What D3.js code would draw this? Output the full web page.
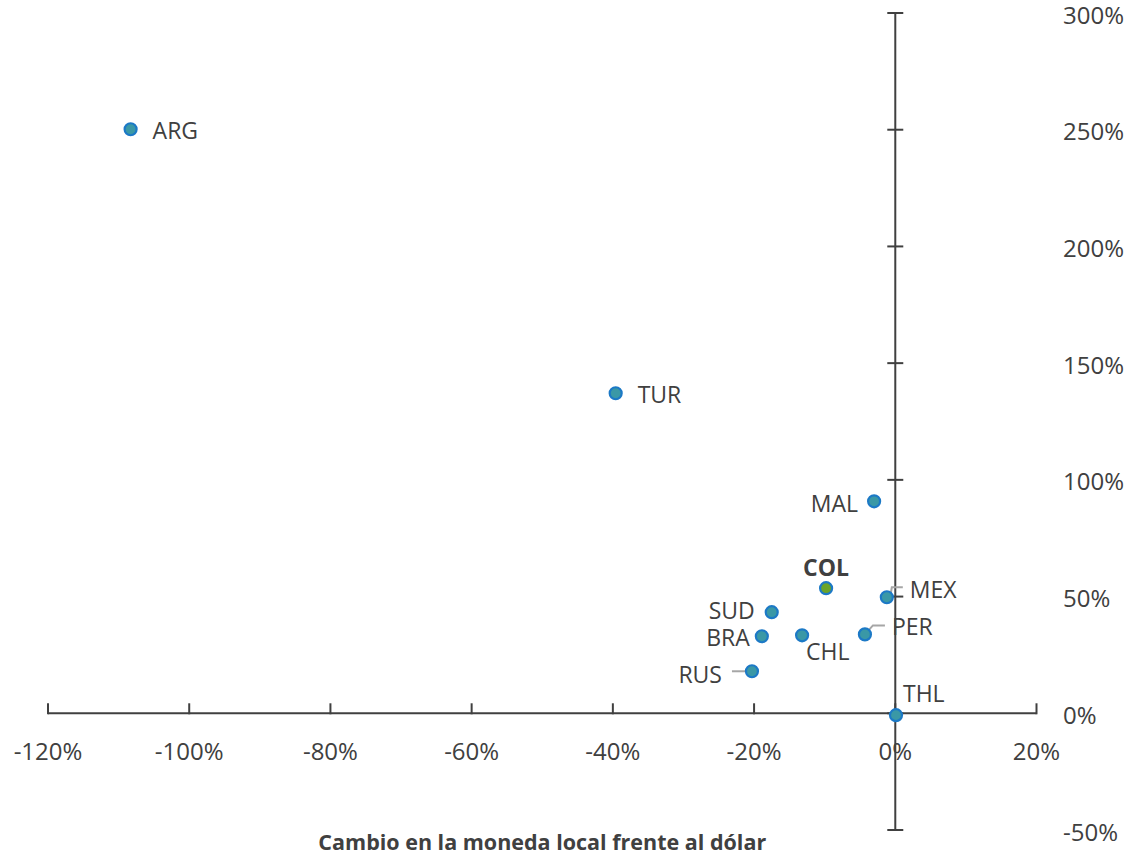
<!DOCTYPE html>
<html>
<head>
<meta charset="utf-8">
<script src="https://cdn.jsdelivr.net/npm/d3@7"></script>
<style>
  html, body { margin: 0; padding: 0; background: #fff; }
  svg { display: block; }
  text { font-family: "Open Sans", "Noto Sans", sans-serif; fill: #404040; }
</style>
</head>
<body>
<svg id="chart" width="1125" height="855"></svg>
<script>
// Country codes
const countries = ["ARG", "TUR", "MAL", "COL", "MEX", "SUD", "BRA", "CHL", "PER", "RUS", "THL"];
// Change in local currency against the dollar (fraction)
const fxChange = [-1.083, -0.396, -0.030, -0.098, -0.012, -0.175, -0.189, -0.132, -0.043, -0.203, 0.001];
// Vertical-axis change (fraction)
const yChange = [2.502, 1.371, 0.908, 0.536, 0.497, 0.433, 0.330, 0.334, 0.338, 0.180, -0.008];
// Axis ticks
const xTicks = [-1.2, -1.0, -0.8, -0.6, -0.4, -0.2, 0, 0.2];
const yTicks = [-0.5, 0, 0.5, 1.0, 1.5, 2.0, 2.5, 3.0];
const highlight = "COL";
const xTitle = "Cambio en la moneda local frente al dólar";

// Label placement around each marker: dx/dy offset from the point, anchor, optional leader
const labelLayout = {
  ARG: { dx: 22, dy: 1, anchor: "start" },
  TUR: { dx: 22, dy: 1, anchor: "start" },
  MAL: { dx: -16, dy: 2, anchor: "end" },
  COL: { dx: 0, dy: -21, anchor: "middle" },
  MEX: { dx: 23, dy: -8, anchor: "start", leader: [[4, -4], [5, -10], [16, -10]] },
  SUD: { dx: -17, dy: -2, anchor: "end" },
  BRA: { dx: -12, dy: 1, anchor: "end" },
  CHL: { dx: 4, dy: 16, anchor: "start" },
  PER: { dx: 27, dy: -8, anchor: "start", leader: [[0, 0], [8, -9], [20, -9]] },
  RUS: { dx: -30, dy: 3, anchor: "end", leader: [[-20, 0], [0, 0]] },
  THL: { dx: 7, dy: -22, anchor: "start" }
};

const svg = d3.select("#chart");

const x = d3.scaleLinear().domain([-1.2, 0.2]).range([48, 1036.5]);
const y = d3.scaleLinear().domain([-0.5, 3.0]).range([830, 13]);
// Percent labels with a plain hyphen for negatives
const pct = d => `${Math.round(d * 100)}%`;

const axisColor = "#404040";

// Horizontal axis line at y = 0 with ticks rising above it
const xAxisG = svg.append("g").attr("transform", `translate(0,${y(0)})`);
xAxisG.append("line")
  .attr("x1", x(-1.2)).attr("x2", x(0.2))
  .attr("stroke", axisColor).attr("stroke-width", 2);
xAxisG.selectAll("line.tick").data(xTicks).join("line")
  .attr("class", "tick")
  .attr("x1", d => x(d)).attr("x2", d => x(d))
  .attr("y1", 1).attr("y2", -10)
  .attr("stroke", axisColor).attr("stroke-width", 2);

// Vertical axis line at x = 0 with ticks crossing it
const yAxisG = svg.append("g").attr("transform", `translate(${x(0)},0)`);
yAxisG.append("line")
  .attr("y1", y(-0.5)).attr("y2", y(3.0))
  .attr("stroke", axisColor).attr("stroke-width", 2);
yAxisG.selectAll("line.tick").data(yTicks).join("line")
  .attr("class", "tick")
  .attr("y1", d => y(d)).attr("y2", d => y(d))
  .attr("x1", -8).attr("x2", 8)
  .attr("stroke", axisColor).attr("stroke-width", 2);

// Tick labels: x below the chart, y along the right edge
svg.append("g").selectAll("text").data(xTicks).join("text")
  .attr("x", d => x(d)).attr("y", 750)
  .attr("text-anchor", "middle").attr("dominant-baseline", "central")
  .attr("font-size", 24)
  .text(d => pct(d));

svg.append("g").selectAll("text").data(yTicks).join("text")
  .attr("x", 1063).attr("y", d => y(d) + 1)
  .attr("text-anchor", "start").attr("dominant-baseline", "central")
  .attr("font-size", 24)
  .text(d => pct(d));

// Axis title
svg.append("text")
  .attr("x", (x(-1.2) + x(0.2)) / 2).attr("y", 841)
  .attr("text-anchor", "middle").attr("dominant-baseline", "central")
  .attr("font-size", 21.5).attr("font-weight", "bold")
  .attr("fill", "#333")
  .text(xTitle);

const points = countries.map((c, i) => ({ code: c, fx: fxChange[i], v: yChange[i] }));

// Leader lines
svg.append("g").selectAll("polyline")
  .data(points.filter(p => labelLayout[p.code].leader))
  .join("polyline")
  .attr("points", p => labelLayout[p.code].leader
    .map(([dx, dy]) => `${x(p.fx) + dx},${y(p.v) + dy}`).join(" "))
  .attr("fill", "none").attr("stroke", "#a6a6a6").attr("stroke-width", 2);

// Markers
svg.append("g").selectAll("circle").data(points).join("circle")
  .attr("cx", p => x(p.fx)).attr("cy", p => y(p.v))
  .attr("r", 6)
  .attr("fill", p => p.code === highlight ? "#6aa42a" : "#3a98a6")
  .attr("stroke", "#1c79c6").attr("stroke-width", 2.2);

// Country labels
svg.append("g").selectAll("text").data(points).join("text")
  .attr("x", p => x(p.fx) + labelLayout[p.code].dx)
  .attr("y", p => y(p.v) + labelLayout[p.code].dy)
  .attr("text-anchor", p => labelLayout[p.code].anchor)
  .attr("dominant-baseline", "central")
  .attr("font-size", 23)
  .attr("font-weight", p => p.code === highlight ? "bold" : "normal")
  .text(p => p.code);
</script>
</body>
</html>
